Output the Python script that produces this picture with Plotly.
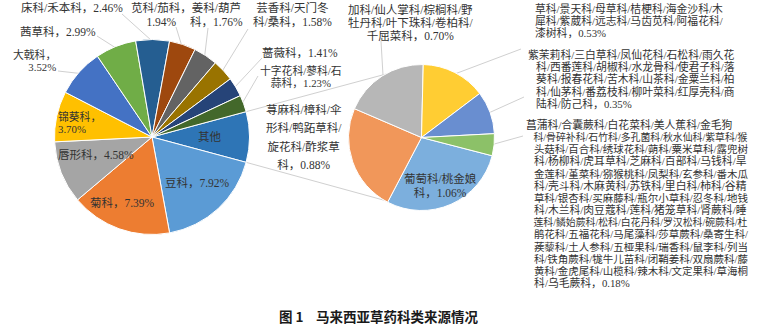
import math
import plotly.graph_objects as go

W, H = 766, 326

# ---------------- data ----------------
main_names = ["其他", "豆科", "菊科", "唇形科", "锦葵科", "大戟科", "茜草科", "禾本科",
              "苋科/茄科", "姜科/葫芦科", "芸香科/天门冬科/桑科", "蔷薇科", "十字花科/蓼科/石蒜科"]
main_pcts = [None, 7.92, 7.39, 4.58, 3.70, 3.52, 2.99, 2.46, 1.94, 1.76, 1.58, 1.41, 1.23]

sub_names = ["葡萄科/桃金娘科", "荨麻科/樟科/伞形科/鸭跖草科/旋花科/酢浆草科",
             "加科/仙人掌科/棕榈科/野牡丹科/叶下珠科/卷柏科/千屈菜科",
             "草科/景天科/母草科/桔梗科/海金沙科/木犀科/紫葳科/远志科/马齿苋科/阿福花科/漆树科",
             "紫茉莉科/三白草科/凤仙花科/石松科/雨久花科/西番莲科/胡椒科/水龙骨科/使君子科/落葵科/报春花科/苦木科/山茶科/金粟兰科/柏科/仙茅科/番荔枝科/柳叶菜科/红厚壳科/商陆科/防己科",
             "菖蒲科等"]
sub_values = [1.06, 0.88, 0.70, 0.53, 0.35, 0.18]

main_values = [round(sum(sub_values), 2)] + main_pcts[1:]

# label texts (line by line)
lbl_text = {
    "禾本科": ["床科/禾本科，2.46%"],
    "苋科/茄科": ["苋科/茄科，", "1.94%"],
    "姜科/葫芦科": ["姜科/葫芦", "科，1.76%"],
    "芸香科": ["芸香科/天门冬", "科/桑科，1.58%"],
    "茜草科": ["茜草科，2.99%"],
    "大戟科": ["大戟科，", "3.52%"],
    "锦葵科": ["锦葵科，", "3.70%"],
    "唇形科": ["唇形科，4.58%"],
    "菊科": ["菊科，7.39%"],
    "豆科": ["豆科，7.92%"],
    "其他": ["其他"],
    "蔷薇科": ["蔷薇科，1.41%"],
    "十字花科": ["十字花科/蓼科/石", "蒜科，1.23%"],
    "荨麻科": ["荨麻科/樟科/伞", "形科/鸭跖草科/", "旋花科/酢浆草", "科，0.88%"],
    "千屈菜科": ["加科/仙人掌科/棕榈科/野", "牡丹科/叶下珠科/卷柏科/", "千屈菜科，0.70%"],
    "葡萄科": ["葡萄科/桃金娘", "科，1.06%"],
    "漆树科": ["草科/景天科/母草科/桔梗科/海金沙科/木", "犀科/紫葳科/远志科/马齿苋科/阿福花科/",
              "漆树科，0.53%"],
    "防己科": ["紫茉莉科/三白草科/凤仙花科/石松科/雨久花", "科/西番莲科/胡椒科/水龙骨科/使君子科/落",
              "葵科/报春花科/苦木科/山茶科/金粟兰科/柏", "科/仙茅科/番荔枝科/柳叶菜科/红厚壳科/商",
              "陆科/防己科，0.35%"],
    "乌毛蕨科": ["菖蒲科/合囊蕨科/白花菜科/美人蕉科/金毛狗", "科/骨碎补科/石竹科/多孔菌科/秋水仙科/紫草科/猴",
                "头菇科/百合科/绣球花科/蒴科/粟米草科/露兜树", "科/杨柳科/虎耳草科/芝麻科/百部科/马钱科/旱",
                "金莲科/堇菜科/猕猴桃科/凤梨科/玄参科/番木瓜", "科/壳斗科/木麻黄科/苏铁科/里白科/柿科/谷精",
                "草科/银杏科/买麻藤科/瓶尔小草科/忍冬科/地钱", "科/木兰科/肉豆蔻科/莲科/猪笼草科/肾蕨科/睡",
                "莲科/鳞始蕨科/松科/白花丹科/罗汉松科/碗蕨科/杜", "鹃花科/五福花科/马尾藻科/莎草蕨科/桑寄生科/",
                "蒺藜科/土人参科/五桠果科/瑞香科/鼠李科/列当", "科/铁角蕨科/牻牛儿苗科/闭鞘姜科/双扇蕨科/藤",
                "黄科/金虎尾科/山榄科/辣木科/文定果科/草海桐", "科/乌毛蕨科，0.18%"],
}
title_parts = ["图 1", "马来西亚草药科类来源情况"]

# ---------------- styles / layout ----------------
main_colors = ["#2E75B6", "#5B9BD5", "#ED7D31", "#A5A5A5", "#FFC000", "#4472C4", "#70AD47",
               "#255E91", "#9E480E", "#636363", "#997300", "#264478", "#43682B"]
sub_colors = ["#7CAFDD", "#F1975A", "#B7B7B7", "#FFCD33", "#698ED0", "#8CC168"]

C1 = (152.0, 137.0, 97.5)   # main pie centre x, y, radius (px)
C2 = (421.5, 137.5, 73.0)   # secondary pie
rot_main = 90 - 180 * main_values[0] / sum(main_values)
rot_sub = 104.5

FONT = "Liberation Serif, Noto Sans CJK SC"
TFONT = "Noto Sans CJK SC"
TXT = "#333333"
LINE = "#D0D0D0"


def px(x, y):
    return x / W, 1 - y / H


def dom(c):
    cx, cy, r = c
    return dict(x=[(cx - r) / W, (cx + r) / W], y=[1 - (cy + r) / H, 1 - (cy - r) / H])


def cw_point(angle_deg, c, rr=None):
    cx, cy, r = c
    rr = r if rr is None else rr
    t = math.radians(angle_deg)
    return cx + rr * math.sin(t), cy - rr * math.cos(t)


def mid_angle(values, i, rot):
    tot = sum(values)
    return rot + 360 * (sum(values[:i]) + values[i] / 2) / tot


def est_em(s):
    w = 0.0
    for ch in s:
        if ord(ch) > 0x2E80:
            w += 1.0
        elif ch == "/":
            w += 0.28
        elif ch == "%":
            w += 0.833
        elif ch == ".":
            w += 0.25
        elif ch == " " or ch == "\u00a0":
            w += 0.25
        else:
            w += 0.5
    return w


fig = go.Figure()
fig.add_trace(go.Pie(values=main_values, labels=main_names, sort=False, direction="clockwise",
                     rotation=rot_main, domain=dom(C1), textinfo="none", showlegend=False,
                     marker=dict(colors=main_colors, line=dict(color="white", width=1))))
fig.add_trace(go.Pie(values=sub_values, labels=sub_names, sort=False, direction="clockwise",
                     rotation=rot_sub, domain=dom(C2), textinfo="none", showlegend=False,
                     marker=dict(colors=sub_colors, line=dict(color="white", width=1))))

shapes = []


def seg(p, q):
    x0, y0 = px(*p)
    x1, y1 = px(*q)
    shapes.append(dict(type="line", xref="paper", yref="paper", x0=x0, y0=y0, x1=x1, y1=y1,
                       line=dict(color=LINE, width=1), layer="below"))


# connector lines between the "其他" slice and the secondary pie
other_span = 360 * main_values[0] / sum(main_values)
seg(cw_point(rot_main, C1), (C2[0], C2[1] - C2[2]))
seg(cw_point(rot_main + other_span, C1), (C2[0], C2[1] + C2[2]))

# leader lines: (pie, index, label-end point)
leaders = [
    ("m", 5, (58, 71)), ("m", 6, (97, 36)), ("m", 7, (122, 14)), ("m", 8, (176, 27)),
    ("m", 9, (208, 28)), ("m", 10, (248, 29)), ("m", 11, (262, 58)), ("m", 12, (258, 76)),
    ("s", 2, (381, 41)), ("s", 3, (521, 49)), ("s", 4, (524, 97)), ("s", 5, (523, 136)),
]
for which, i, end in leaders:
    if which == "m":
        a = mid_angle(main_values, i, rot_main)
        seg(cw_point(a, C1, C1[2] - 2), end)
    else:
        a = mid_angle(sub_values, i, rot_sub)
        seg(cw_point(a, C2, C2[2] - 2), end)

annotations = []


def add_label(key, x, y0, step, xanchor="center", size=11.5, maxw=None, indent=0):
    lines = lbl_text[key]
    base = step / 1.3
    parts = []
    for k, line in enumerate(lines):
        s = size
        pre = "\u00a0" * indent if k > 0 else ""
        if maxw:
            s = min(size, maxw / est_em(pre + line))
        parts.append('<span style="font-size:%.2fpx">%s%s</span>' % (s, pre, line))
    yc = y0 + (len(lines) - 1) * step / 2
    ax, ay = px(x, yc)
    annotations.append(dict(text="<br>".join(parts), x=ax, y=ay, xref="paper", yref="paper",
                            xanchor=xanchor, yanchor="middle", showarrow=False, borderpad=0,
                            align=xanchor if xanchor in ("left", "right") else "center",
                            font=dict(family=FONT, size=base, color=TXT)))


add_label("禾本科", 72, 8, 15)
add_label("苋科/茄科", 161, 8, 13.5)
add_label("姜科/葫芦科", 216, 8, 13.5)
add_label("芸香科", 292, 8, 13.5)
add_label("茜草科", 19, 32, 15, "left")
add_label("大戟科", 57, 54, 12, "right", size=10.8)
add_label("锦葵科", 57, 116, 12, "left", size=10.8)
add_label("唇形科", 57, 155, 15, "left")
add_label("菊科", 122, 202, 15)
add_label("豆科", 197, 182, 15)
add_label("其他", 210, 137, 15)
add_label("蔷薇科", 300, 53, 15)
add_label("十字花科", 301, 70, 12, size=10.8)
add_label("荨麻科", 304, 110, 18.3)
add_label("千屈菜科", 411, 9, 13)
add_label("葡萄科", 440, 178, 14)
add_label("漆树科", 534, 8, 12.1, "left", size=10.8, maxw=214)
add_label("防己科", 527, 55, 12.2, "left", size=10.8, maxw=220, indent=3)
add_label("乌毛蕨科", 525, 125, 12.15, "left", size=10.8, maxw=222, indent=3)

for txt, cxp in zip(title_parts, [291, 397.5]):
    ax, ay = px(cxp, 316.2)
    annotations.append(dict(text=txt, x=ax, y=ay, xref="paper", yref="paper", xanchor="center",
                            yanchor="middle", showarrow=False, borderpad=0,
                            font=dict(family=TFONT, size=13.5, color="#1a1a1a", weight="bold")))

fig.update_layout(width=W, height=H, margin=dict(l=0, r=0, t=0, b=0),
                  paper_bgcolor="white", plot_bgcolor="white",
                  shapes=shapes, annotations=annotations)

fig.write_html("out.html")
